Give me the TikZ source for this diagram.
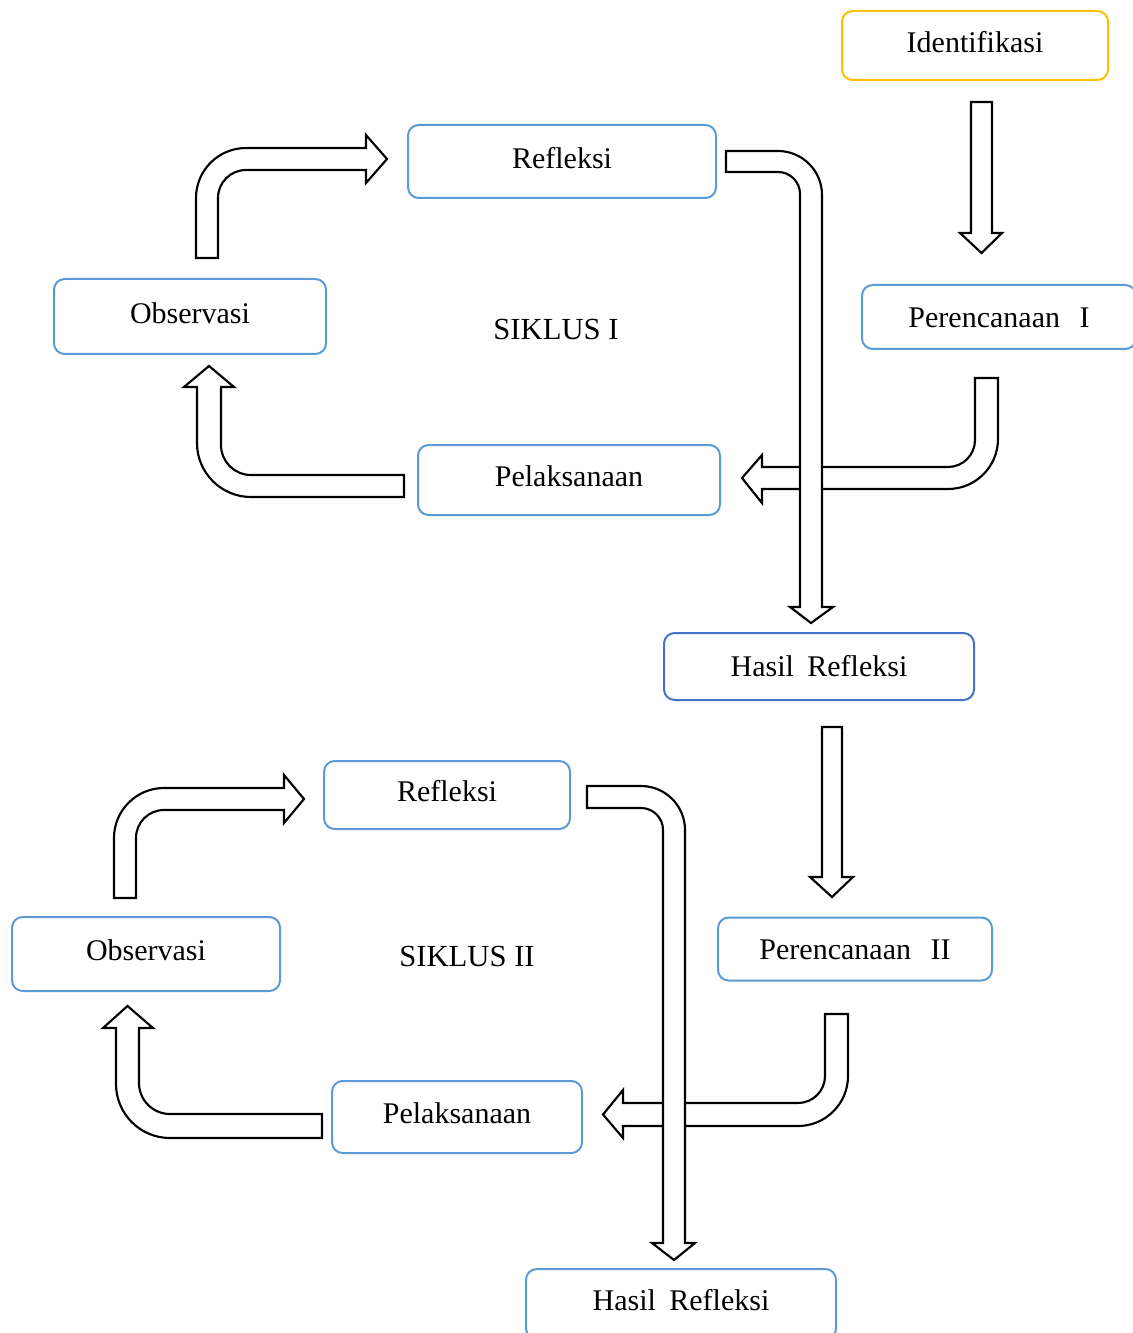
\documentclass[tikz,border=0pt]{standalone}
\usepackage{fontspec}
\setmainfont{Liberation Serif}
\definecolor{boxblue}{HTML}{5B9BD5}
\definecolor{darkblue}{HTML}{4472C4}
\definecolor{gold}{HTML}{FFC000}
\newcommand{\pxl}[1]{#1*0.75pt}
\begin{document}
\begin{tikzpicture}[x=0.75pt,y=-0.75pt,
  box/.style={draw=boxblue, line width=1.5pt, rounded corners=8pt, fill=white, inner sep=0pt,
    text height=15.3pt, text depth=5.5pt, font=\fontsize{22.5}{27}\selectfont},
  blk/.style={draw=black, fill=white, line width=1.6pt, line join=miter},
  lbl/.style={font=\fontsize{23}{28}\selectfont, inner sep=0pt}]
\useasboundingbox (0,0) rectangle (1132,1333);

% ---------- boxes ----------
\node[box, draw=gold, minimum width=\pxl{266}, minimum height=\pxl{69}] (ident) at (975,45.5) {Identifikasi};
\node[box, minimum width=\pxl{308}, minimum height=\pxl{73}] (ref1) at (562,161.5) {Refleksi};
\node[box, minimum width=\pxl{272}, minimum height=\pxl{75}] (obs1) at (190,316.5) {Observasi};
\node[box, text depth=0pt, minimum width=\pxl{274}, minimum height=\pxl{64}] (per1) at (999,317) {Perencanaan\hspace{0.4em} I};
\node[box, minimum width=\pxl{302}, minimum height=\pxl{70}] (pel1) at (569,480) {Pelaksanaan};
\node[box, draw=darkblue, text depth=1pt, minimum width=\pxl{310}, minimum height=\pxl{67}] (has1) at (819,666.5) {Hasil\hspace{0.2em} Refleksi};
\node[lbl] (sik1) at (556,329) {SIKLUS I};

\node[box, minimum width=\pxl{246}, minimum height=\pxl{68}] (ref2) at (447,795) {Refleksi};
\node[box, minimum width=\pxl{268}, minimum height=\pxl{74}] (obs2) at (146,954) {Observasi};
\node[box, text depth=0pt, minimum width=\pxl{274}, minimum height=\pxl{63}] (per2) at (855,949) {Perencanaan\hspace{0.4em} II};
\node[box, minimum width=\pxl{250}, minimum height=\pxl{72}] (pel2) at (457,1117) {Pelaksanaan};
\node[box, minimum width=\pxl{310}, minimum height=\pxl{70}] (has2) at (681,1304) {Hasil\hspace{0.2em} Refleksi};
\node[lbl] (sik2) at (467,956) {SIKLUS II};

% ---------- block arrows, cycle I ----------
% Identifikasi -> Perencanaan I
\filldraw[blk] (971,102) -- (992,102) -- (992,233) -- (1002,233) -- (981.5,253) -- (960,233) -- (971,233) -- cycle;
% Perencanaan I -> Pelaksanaan I
\filldraw[blk] (975,378) -- (998,378) -- (998,439) .. controls (998,466.6) and (975.6,489) .. (948,489)
  -- (762,489) -- (762,503) -- (742,478) -- (762,455) -- (762,467) -- (948,467)
  .. controls (962.9,467) and (975,454.9) .. (975,440) -- cycle;
% Refleksi I -> Hasil Refleksi
\filldraw[blk] (726,151) -- (778,151) .. controls (802.3,151) and (822,170.7) .. (822,195)
  -- (822,607) -- (833,607) -- (811,623) -- (790,607) -- (800,607) -- (800,194)
  .. controls (800,181.8) and (790.2,172) .. (778,172) -- (726,172) -- cycle;
% Pelaksanaan I -> Observasi I
\filldraw[blk] (404,475) -- (404,497) -- (251,497) .. controls (221.2,497) and (197,472.8) .. (197,443)
  -- (197,387) -- (184,387) -- (209,366) -- (234,387) -- (221,387) -- (221,445)
  .. controls (221,461.6) and (234.4,475) .. (251,475) -- cycle;
% Observasi I -> Refleksi I
\filldraw[blk] (196,258) -- (196,198) .. controls (196,170.4) and (218.4,148) .. (246,148)
  -- (366,148) -- (366,135) -- (387,159) -- (366,183) -- (366,170) -- (246,170)
  .. controls (230.5,170) and (218,182.5) .. (218,198) -- (218,258) -- cycle;
% Hasil Refleksi -> Perencanaan II
\filldraw[blk] (822,727) -- (842,727) -- (842,877) -- (853,877) -- (832,897) -- (810,877) -- (822,877) -- cycle;

% ---------- block arrows, cycle II ----------
% Perencanaan II -> Pelaksanaan II
\filldraw[blk] (825,1014) -- (848,1014) -- (848,1076) .. controls (848,1103.6) and (825.6,1126) .. (798,1126)
  -- (623,1126) -- (623,1138) -- (603,1114.5) -- (623,1090) -- (623,1103) -- (798,1103)
  .. controls (812.9,1103) and (825,1090.9) .. (825,1076) -- cycle;
% Refleksi II -> Hasil Refleksi II
\filldraw[blk] (587,786) -- (641,786) .. controls (665.3,786) and (685,805.7) .. (685,830)
  -- (685,1243) -- (695,1243) -- (674,1260) -- (652,1243) -- (663,1243) -- (663,830)
  .. controls (663,817.8) and (653.2,808) .. (641,808) -- (587,808) -- cycle;
% Pelaksanaan II -> Observasi II
\filldraw[blk] (322,1114) -- (322,1138) -- (170,1138) .. controls (140.2,1138) and (116,1113.8) .. (116,1084)
  -- (116,1028) -- (103,1028) -- (127.5,1006) -- (153,1028) -- (139,1028) -- (139,1083)
  .. controls (139,1100.1) and (152.9,1114) .. (170,1114) -- cycle;
% Observasi II -> Refleksi II
\filldraw[blk] (114,898) -- (114,838) .. controls (114,810.4) and (136.4,788) .. (164,788)
  -- (284,788) -- (284,775) -- (304,799) -- (284,823) -- (284,810) -- (164,810)
  .. controls (148.5,810) and (136,822.5) .. (136,838) -- (136,898) -- cycle;
\end{tikzpicture}
\end{document}
